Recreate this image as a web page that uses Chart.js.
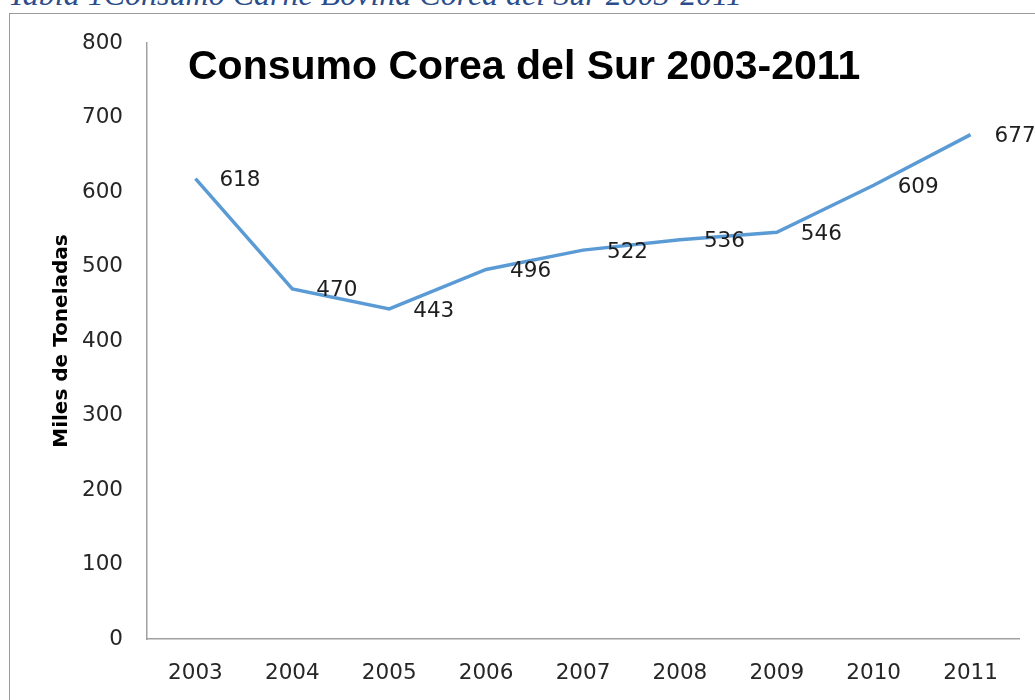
<!DOCTYPE html>
<html>
<head>
<meta charset="utf-8">
<script src="https://cdn.jsdelivr.net/npm/chart.js@4.4.0/dist/chart.umd.min.js"></script>
<style>
  html, body { margin: 0; padding: 0; background: #fff; overflow: hidden; }
  #caption {
    position: absolute; left: 8px; top: -22px; white-space: nowrap;
    font: italic 32px "Liberation Serif", "DejaVu Serif", serif;
    color: #2c4d8c; line-height: 32px;
  }
  #frame {
    position: absolute; left: 9px; top: 13px; width: 1100px; height: 1000px;
    border: 1.5px solid #9a9a9a; box-sizing: border-box;
  }
  #wrap { position: absolute; left: 0; top: 0; width: 1035px; height: 700px; }
</style>
</head>
<body>
<div id="caption">Tabla 1Consumo Carne Bovina Corea del Sur 2003-2011</div>
<div id="frame"></div>
<div id="wrap"><canvas id="chart" width="1035" height="700"></canvas></div>
<script>
// Consumo de carne bovina, Corea del Sur (miles de toneladas)
const years = ["2003", "2004", "2005", "2006", "2007", "2008", "2009", "2010", "2011"];
const consumo = [618, 470, 443, 496, 522, 536, 546, 609, 677];
const chartTitle = "Consumo Corea del Sur 2003-2011";
const yTitle = "Miles de Toneladas";

const labelPlugin = {
  id: "pointLabels",
  afterDatasetsDraw(chart) {
    const ctx = chart.ctx;
    const meta = chart.getDatasetMeta(0);
    ctx.save();
    ctx.font = '21.5px "DejaVu Sans"';
    ctx.fillStyle = "#1e1e1e";
    ctx.textAlign = "left";
    ctx.textBaseline = "middle";
    meta.data.forEach((pt, i) => {
      ctx.fillText(String(consumo[i]), pt.x + 24, pt.y + 2);
    });
    ctx.restore();
  },
};

const titlePlugin = {
  id: "innerTitle",
  afterDraw(chart) {
    const ctx = chart.ctx;
    ctx.save();
    ctx.font = 'bold 41px "Liberation Sans"';
    ctx.fillStyle = "#000";
    ctx.textAlign = "left";
    ctx.textBaseline = "alphabetic";
    ctx.fillText(chartTitle, 188, 79);
    ctx.restore();
  },
};

Chart.defaults.font.family = '"DejaVu Sans", sans-serif';

new Chart(document.getElementById("chart").getContext("2d"), {
  type: "line",
  data: {
    labels: years,
    datasets: [
      {
        data: consumo,
        borderColor: "#5b9bd5",
        borderWidth: 3.5,
        pointRadius: 0,
        tension: 0,
        fill: false,
      },
    ],
  },
  options: {
    responsive: false,
    animation: false,
    layout: { padding: { top: 43, right: 16, bottom: 0, left: 0 } },
    plugins: {
      legend: { display: false },
      tooltip: { enabled: false },
    },
    scales: {
      x: {
        offset: true,
        grid: { display: false, drawTicks: false },
        border: { display: true, color: "#a0a0a0", width: 1.5 },
        ticks: { color: "#262626", font: { size: 21.5 }, padding: 22, maxRotation: 0 },
        afterFit: (s) => { s.height = 61; },
      },
      y: {
        min: 0,
        max: 800,
        grid: { display: false, drawTicks: false },
        border: { display: true, color: "#a0a0a0", width: 1.5 },
        ticks: { stepSize: 100, color: "#262626", font: { size: 21.5 }, padding: 24 },
        title: {
          display: true,
          text: yTitle,
          color: "#000",
          font: { size: 20, weight: "bold" },
          padding: { top: 50, bottom: 0 },
        },
        afterFit: (s) => { s.width = 147; },
      },
    },
  },
  plugins: [labelPlugin, titlePlugin],
});
</script>
</body>
</html>
